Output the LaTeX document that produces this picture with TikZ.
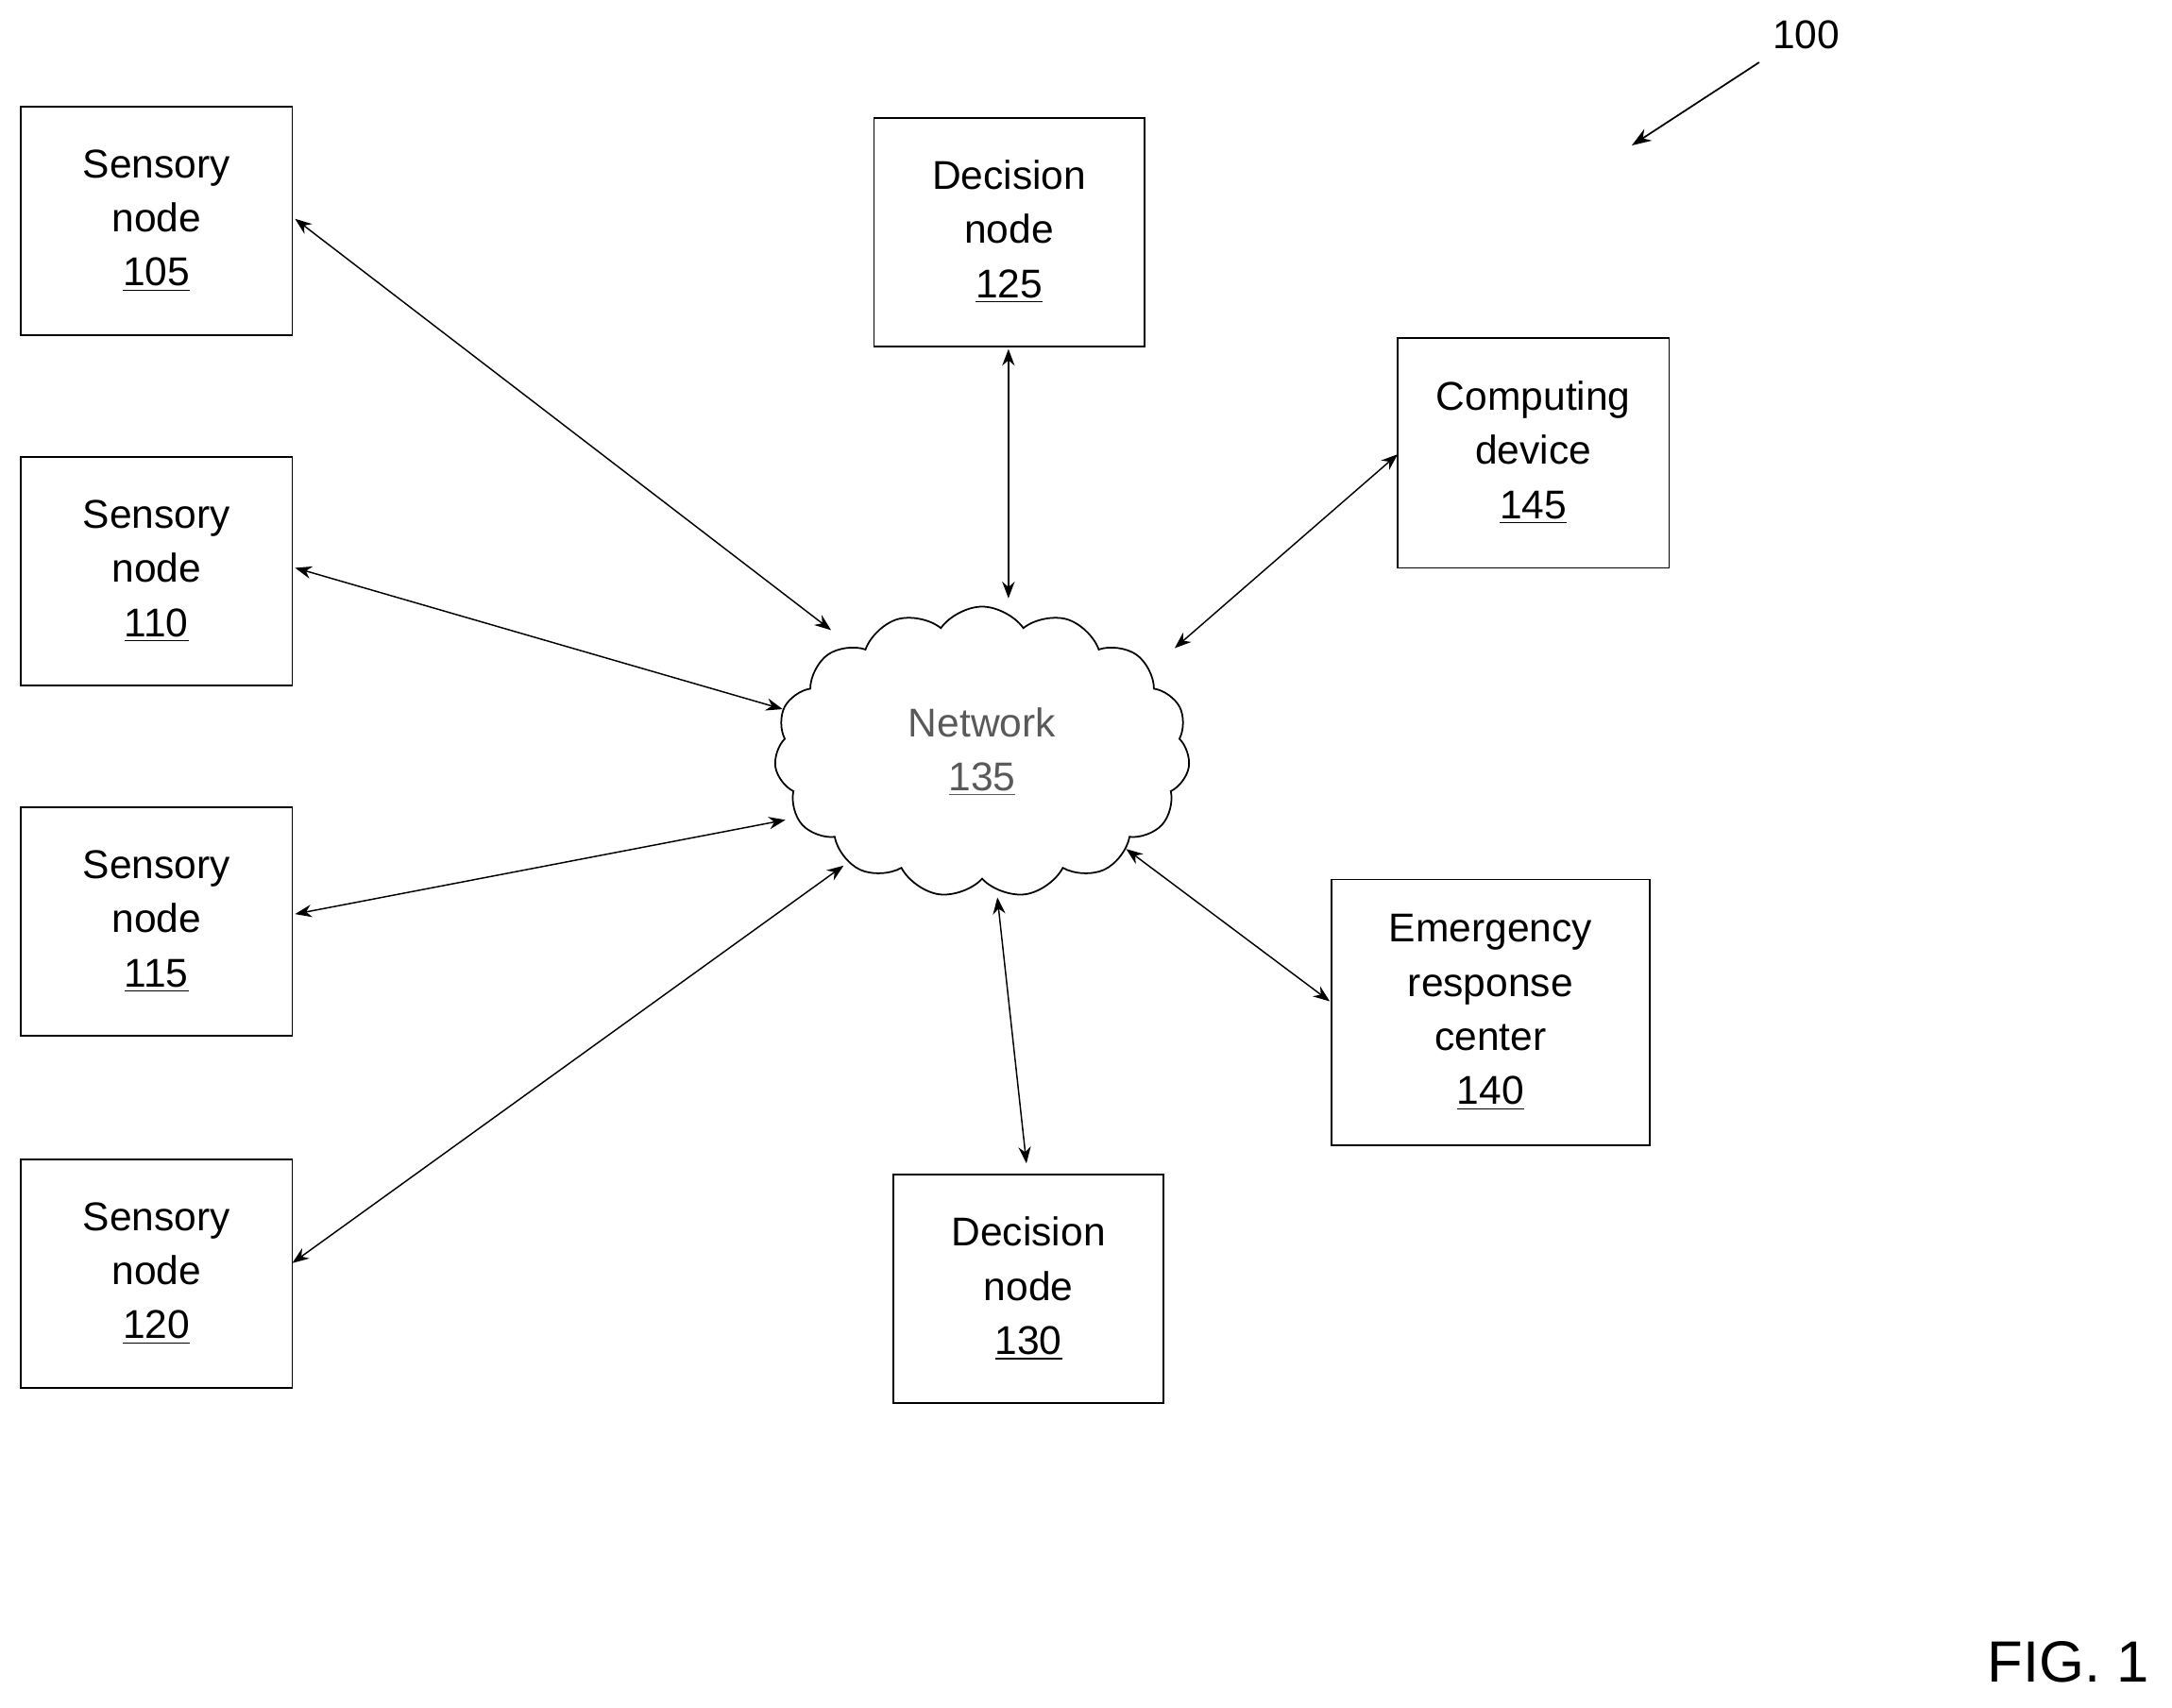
\documentclass[tikz,border=0pt]{standalone}
\usepackage{fontspec}
\setmainfont{Liberation Sans}
\usetikzlibrary{shapes.symbols,arrows.meta}
\begin{document}
\begin{tikzpicture}[x=0.5pt,y=-0.5pt,
 box/.style={draw,line width=0.6pt,align=center,font=\fontsize{14.5}{19.5}\selectfont,inner sep=0pt},
 con/.style={line width=0.5pt,{Stealth[length=6pt,width=4.5pt]}-{Stealth[length=6pt,width=4.5pt]}}]
\useasboundingbox (0,0) rectangle (1568,1233);
\newcommand{\bx}[6]{\node[box,minimum width=#4*0.5pt,minimum height=#5*0.5pt] (#1) at (#2,#3) {#6};}
\bx{s105}{113}{159.5}{196}{165}{Sensory\\node\\\underline{105}}
\bx{s110}{113}{412.5}{196}{165}{Sensory\\node\\\underline{110}}
\bx{s115}{113}{665.5}{196}{165}{Sensory\\node\\\underline{115}}
\bx{s120}{113}{919.5}{196}{165}{Sensory\\node\\\underline{120}}
\bx{d125}{728.5}{167.5}{195}{165}{Decision\\node\\\underline{125}}
\bx{c145}{1107}{327}{196}{166}{Computing\\device\\\underline{145}}
\bx{e140}{1076}{731}{230}{192}{Emergency\\response\\center\\\underline{140}}
\bx{d130}{742.5}{930.5}{195}{165}{Decision\\node\\\underline{130}}
\node[cloud,draw,line width=0.6pt,cloud puffs=15,cloud puff arc=110,aspect=1.4,minimum width=150pt,minimum height=105pt,align=center,text=black!65,font=\fontsize{14.5}{19.5}\selectfont] (net) at (709,543) {Network\\\underline{135}};
\coordinate (n1) at (600,455);
\coordinate (n2) at (565,512);
\coordinate (n3) at (567,592);
\coordinate (n4) at (609,625);
\coordinate (n5) at (728,432);
\coordinate (n6) at (848,468);
\coordinate (n7) at (813,613);
\coordinate (n8) at (720,648);
\coordinate (b1) at (213,158);
\coordinate (b2) at (213,410);
\coordinate (b3) at (213,660);
\coordinate (b4) at (211,912);
\coordinate (b5) at (728,252);
\coordinate (b6) at (1009,328);
\coordinate (b7) at (960,723);
\coordinate (b8) at (741,840);
\foreach \i in {1,...,8} \draw[con] (b\i) -- (n\i);
\node[font=\fontsize{14.5}{17}\selectfont] (lbl) at (1304,25) {100};
\coordinate (a1) at (1270,45);
\coordinate (a2) at (1178,105);
\draw[line width=0.6pt,-{Stealth[length=7pt,width=5pt]}] (a1) -- (a2);
\node[font=\fontsize{21}{25}\selectfont] (fig) at (1493,1200) {FIG. 1};
\end{tikzpicture}
\end{document}
